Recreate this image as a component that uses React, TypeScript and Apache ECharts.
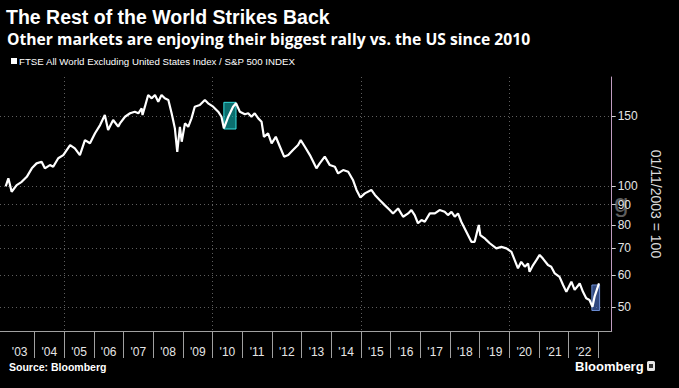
import React, { useEffect, useRef } from "react";
import * as echarts from "echarts";

const titleText = "The Rest of the World Strikes Back";
const subtitleText = "Other markets are enjoying their biggest rally vs. the US since 2010";
const seriesName = "FTSE All World Excluding United States Index / S&P 500 INDEX";
const axisName = "01/11/2003 = 100";
const sourceText = "Source: Bloomberg";

// decimal years
const years = [
  2003.03, 2003.12, 2003.23, 2003.40, 2003.57, 2003.74, 2003.91, 2004.07, 2004.24, 2004.35,
  2004.52, 2004.63, 2004.80, 2004.97, 2005.20, 2005.36, 2005.53, 2005.70, 2005.87, 2006.04,
  2006.21, 2006.37, 2006.48, 2006.65, 2006.82, 2006.88, 2007.05, 2007.22, 2007.38, 2007.50,
  2007.61, 2007.64, 2007.72, 2007.83, 2007.95, 2008.06, 2008.17, 2008.28, 2008.39, 2008.51,
  2008.62, 2008.67, 2008.73, 2008.81, 2008.90, 2008.96, 2009.07, 2009.18, 2009.29, 2009.40,
  2009.57, 2009.74, 2009.85, 2010.02, 2010.19, 2010.30, 2010.38, 2010.53, 2010.69, 2010.79,
  2010.92, 2011.09, 2011.20, 2011.31, 2011.42, 2011.54, 2011.65, 2011.73, 2011.87, 2011.99,
  2012.13, 2012.27, 2012.41, 2012.55, 2012.71, 2012.88, 2012.97, 2013.11, 2013.28, 2013.50,
  2013.61, 2013.78, 2013.95, 2014.12, 2014.23, 2014.40, 2014.57, 2014.73, 2014.85, 2014.98,
  2015.13, 2015.35, 2015.47, 2015.63, 2015.80, 2015.97, 2016.08, 2016.25, 2016.42, 2016.59,
  2016.70, 2016.81, 2016.92, 2017.04, 2017.15, 2017.32, 2017.49, 2017.65, 2017.82, 2017.93,
  2018.05, 2018.16, 2018.27, 2018.38, 2018.55, 2018.72, 2018.83, 2018.97, 2019.02, 2019.17,
  2019.23, 2019.34, 2019.56, 2019.73, 2019.90, 2020.07, 2020.18, 2020.29, 2020.40, 2020.52,
  2020.63, 2020.68, 2020.80, 2020.91, 2021.02, 2021.13, 2021.30, 2021.41, 2021.53, 2021.69,
  2021.81, 2021.92, 2022.09, 2022.20, 2022.37, 2022.48, 2022.59, 2022.70, 2022.80, 2022.87,
  2023.02,
];

// ratio, rebased 01/11/2003 = 100
const ratio = [
  100.0, 104.8, 97.0, 100.8, 102.7, 105.7, 111.0, 114.2, 115.3, 111.0,
  113.1, 112.0, 117.6, 119.8, 126.9, 124.5, 119.8, 130.6, 128.2, 135.8,
  142.4, 150.9, 138.4, 146.6, 141.1, 143.8, 149.4, 152.4, 153.8, 152.4,
  156.8, 150.9, 158.3, 169.3, 166.1, 169.3, 162.9, 169.3, 166.1, 164.5,
  152.4, 146.6, 139.7, 122.1, 141.0, 129.4, 143.8, 141.0, 148.0, 158.3,
  159.8, 164.5, 161.4, 158.3, 153.8, 149.4, 139.7, 149.4, 158.3, 161.4,
  153.8, 151.5, 152.4, 149.4, 152.4, 148.0, 145.2, 133.1, 135.8, 128.2,
  133.1, 125.7, 118.7, 119.8, 123.3, 126.9, 130.6, 125.7, 119.8, 111.0,
  114.2, 118.7, 113.1, 112.0, 107.8, 109.9, 108.8, 103.8, 98.0, 93.8,
  96.1, 98.0, 95.2, 92.5, 89.8, 87.3, 85.6, 88.1, 84.0, 85.6,
  87.3, 84.8, 80.9, 82.4, 81.6, 85.6, 85.6, 87.3, 86.4, 84.8,
  86.4, 84.0, 85.6, 81.6, 77.0, 72.7, 72.7, 80.1, 75.6, 74.2,
  73.4, 72.1, 70.0, 70.6, 70.0, 68.6, 65.4, 62.4, 64.8, 63.0,
  64.2, 61.2, 63.6, 65.4, 67.4, 66.0, 63.6, 63.0, 60.6, 59.4,
  56.7, 54.5, 57.8, 55.1, 57.2, 54.5, 52.5, 52.0, 50.0, 53.0,
  57.2,
];

const yearLabels = [
  "'03", "'04", "'05", "'06", "'07", "'08", "'09", "'10", "'11", "'12",
  "'13", "'14", "'15", "'16", "'17", "'18", "'19", "'20", "'21", "'22",
];
const firstYear = 2003;
const gridYears = [2005, 2010, 2015, 2020];
const yTickValues = [50, 60, 70, 80, 90, 100, 150];

// highlighted rallies: [startYear, endYear, low, high]
const rally2010 = [2010.38, 2010.79, 139.2, 162.3];
const rally2022 = [2022.78, 2023.04, 48.95, 56.7];

export default function App() {
  const ref = useRef<HTMLDivElement>(null);

  useEffect(() => {
    if (!ref.current) return;
    const chart = echarts.init(ref.current, null, { renderer: "svg" });
    const ln = Math.log;
    const data = years.map((y, i) => [y, ln(ratio[i])]);
    const labelPos = yearLabels.map((_, i) => firstYear + i + 0.5);
    const tickPos = yearLabels.map((_, i) => firstYear + i + 1);
    const xMin = 2002.838;
    const xMax = 2023.448;
    const gridColor = "#5e5e5e";
    const font = "'Liberation Sans', Arial, sans-serif";
    const wideFont = "'Open Sans', 'Liberation Sans', sans-serif";

    chart.setOption({
      animation: false,
      backgroundColor: "#000000",
      textStyle: { fontFamily: font },
      title: [
        {
          text: titleText,
          left: 6,
          top: 7,
          padding: 0,
          textStyle: { color: "#ffffff", fontSize: 19.5, fontWeight: "bold", fontFamily: font },
        },
        {
          text: subtitleText,
          left: 7,
          top: 31,
          padding: 0,
          textStyle: { color: "#ffffff", fontSize: 15.7, fontWeight: "bold", fontFamily: wideFont },
        },
      ],
      legend: {
        data: [seriesName],
        left: 11,
        top: 56,
        padding: 0,
        icon: "rect",
        itemWidth: 6,
        itemHeight: 6,
        textStyle: { color: "#ffffff", fontSize: 9.7, padding: [0, 0, 0, -3], fontFamily: font },
      },
      grid: { left: 0, right: 67.3, top: 77, bottom: 57, containLabel: false },
      xAxis: [
        {
          type: "value",
          min: xMin,
          max: xMax,
          axisLine: { show: true, lineStyle: { color: "#a0a0a0", width: 1 } },
          axisTick: {
            show: true,
            length: 27,
            customValues: tickPos,
            lineStyle: { color: "#a0a0a0", width: 1 },
          },
          axisLabel: {
            customValues: labelPos,
            formatter: (v: number) => yearLabels[Math.round(v - 0.5) - firstYear] ?? "",
            color: "#e6e6e6",
            fontSize: 12,
            margin: 15,
          },
          splitLine: { show: false },
        },
        {
          type: "value",
          min: xMin,
          max: xMax,
          position: "bottom",
          axisLine: { show: false },
          axisTick: { show: false, customValues: gridYears },
          axisLabel: { show: false, customValues: gridYears },
          splitLine: { show: true, lineStyle: { color: gridColor, type: [1, 3], width: 1 } },
        },
      ],
      yAxis: {
        type: "value",
        position: "right",
        min: ln(43.5),
        max: ln(187.8),
        name: axisName,
        nameLocation: "middle",
        nameRotate: -90,
        nameGap: 25,
        nameTextStyle: { color: "#dcdcdc", fontSize: 14, fontFamily: font },
        axisLine: { show: true, lineStyle: { color: "#bf9cc0", width: 1 } },
        axisTick: {
          show: true,
          length: 4,
          customValues: yTickValues.map((v) => ln(v)),
          lineStyle: { color: "#d0d0d0" },
        },
        axisLabel: {
          customValues: yTickValues.map((v) => ln(v)),
          formatter: (v: number) => String(Math.round(Math.exp(v))),
          color: "#e6e6e6",
          fontSize: 12,
          margin: 6,
        },
        splitLine: { show: true, lineStyle: { color: gridColor, type: [1, 3], width: 1 } },
      },
      series: [
        {
          name: seriesName,
          type: "line",
          data,
          showSymbol: false,
          symbol: "none",
          lineStyle: { color: "#ffffff", width: 2.2 },
          itemStyle: { color: "#ffffff" },
          z: 2,
        },
        {
          name: "highlights",
          type: "line",
          data: [],
          showSymbol: false,
          z: 5,
          silent: true,
          markArea: {
            silent: true,
            data: [
              [
                {
                  coord: [rally2010[0], ln(rally2010[3])],
                  itemStyle: { color: "rgba(20,200,200,0.55)", borderColor: "#36dede", borderWidth: 1 },
                },
                { coord: [rally2010[1], ln(rally2010[2])] },
              ],
              [
                {
                  coord: [rally2022[0], ln(rally2022[3])],
                  itemStyle: { color: "rgba(80,120,210,0.6)", borderColor: "#6a8ad0", borderWidth: 1 },
                },
                { coord: [rally2022[1], ln(rally2022[2])] },
              ],
            ],
          },
        },
      ],
      graphic: [
        {
          type: "text",
          left: 9,
          top: 361,
          style: { text: sourceText, fill: "#ffffff", font: `bold 10.5px ${font}` },
        },
        {
          type: "text",
          left: 575,
          top: 360,
          style: { text: "Bloomberg", fill: "#ffffff", font: `600 13px ${font}` },
        },
        {
          type: "rect",
          left: 647,
          top: 361,
          shape: { width: 8, height: 10, r: 1.5 },
          style: { fill: "#e6e6e6" },
        },
        {
          type: "rect",
          left: 649,
          top: 364,
          shape: { width: 4, height: 4 },
          style: { fill: "#333333" },
        },
        {
          type: "text",
          left: 614,
          top: 190,
          style: { text: "g", fill: "#5e5e5e", font: `26px ${font}` },
        },
      ],
    });

    return () => chart.dispose();
  }, []);

  return <div ref={ref} style={{ width: 679, height: 388, position: "absolute", left: 0, top: 0 }} />;
}
